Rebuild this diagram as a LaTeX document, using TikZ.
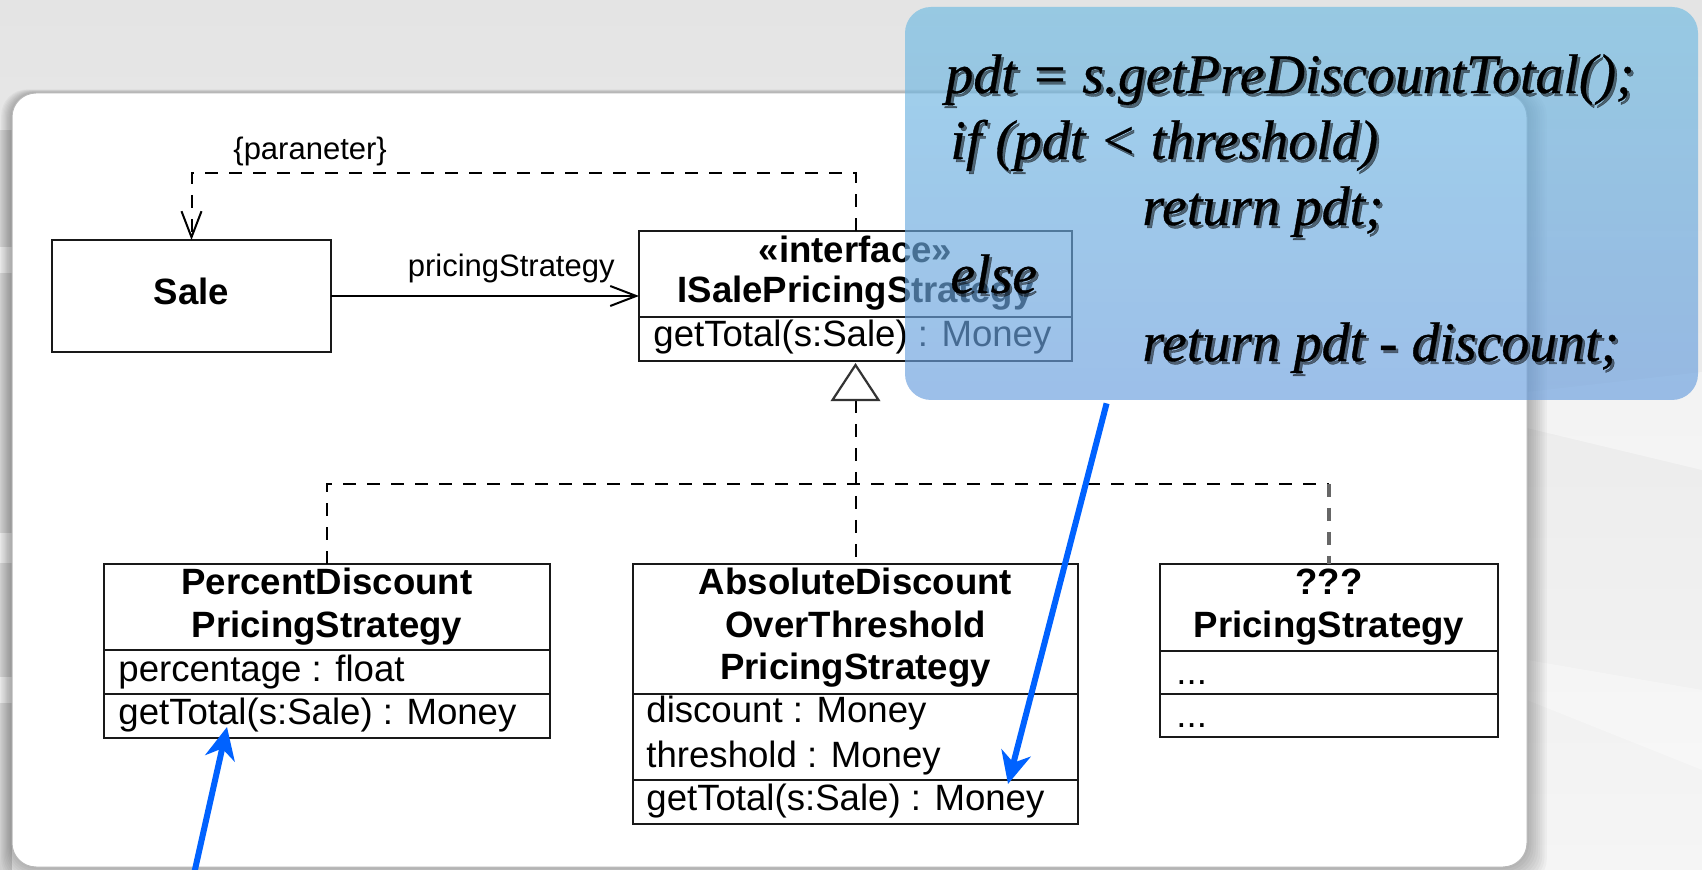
\documentclass[tikz,border=0pt]{standalone}
\usepackage{fontspec}
\setmainfont{Liberation Serif}
\setsansfont{Liberation Sans}
\usetikzlibrary{arrows.meta,calc}

\definecolor{pointerblue}{RGB}{0,98,255}
\definecolor{notetop}{RGB}{112,188,226}
\definecolor{notebottom}{RGB}{106,158,222}
\definecolor{canvastop}{RGB}{228,228,228}
\definecolor{canvasbottom}{RGB}{245,245,245}

% one line of the code note, with its soft drop shadow
\newcommand\noteline[4]{%
  \node[codeshadow] (#1s) at (#2+2.5,#3+3) {#4};
  \node[codetext] (#1) at (#2,#3) {#4};}
% compartment separator inside a class box, #2 = offset from the top edge
\newcommand\compline[2]{%
  \draw[boxline] ($(#1.north west)+(0,#2)$) -- ($(#1.north east)+(0,#2)$);}

\begin{document}
\begin{tikzpicture}[x=0.5pt,y=-0.5pt,
  boxline/.style={line width=1.1pt, draw=black!90},
  umlbox/.style={rectangle, draw=black!90, line width=1.1pt, fill=white,
    inner sep=0pt, outer sep=0pt},
  nametext/.style={font=\sffamily\bfseries\fontsize{18.3}{22}\selectfont,
    anchor=base, inner sep=0pt},
  membertext/.style={font=\sffamily\fontsize{18.3}{22}\selectfont,
    anchor=base west, inner sep=0pt},
  labeltext/.style={font=\sffamily\fontsize{15.5}{18}\selectfont, inner sep=0pt},
  dashline/.style={line width=1pt, dash pattern=on 6.5pt off 5.5pt},
  openhead/.style={-{Straight Barb[length=13pt,width=10pt,line width=1pt]}},
  codetext/.style={font=\itshape\fontsize{27.9}{32}\selectfont\addfontfeature{FakeBold=0.6},
    anchor=base west, inner sep=0pt},
  codeshadow/.style={codetext, text=black, opacity=0.5},
  note/.style={rectangle, rounded corners=13pt, top color=notetop,
    bottom color=notebottom, fill opacity=0.66, draw=none, inner sep=0pt},
  pointer/.style={draw=pointerblue, line width=3pt,
    -{Stealth[length=16pt,width=15pt,inset=5pt]}},
]
\useasboundingbox (0,0) rectangle (1702,870);

% ---------- slide background ----------
\shade[top color=canvastop, bottom color=canvasbottom] (0,0) rectangle (1702,870);
\fill[black!19] (0,130) rectangle (12,870);
\fill[black!9] (0,247) rectangle (12,273);
\fill[black!9] (0,533) rectangle (12,563);
\fill[black!9] (0,677) rectangle (12,703);
\fill[white, opacity=0.4] (1527,392) -- (1702,372) -- (1702,470) -- (1527,428) -- cycle;
\fill[white, opacity=0.35] (1527,660) -- (1702,690) -- (1702,770) -- (1527,700) -- cycle;

% ---------- white panel with soft shadow ----------
\foreach \k in {1,...,9}{
  \fill[black, opacity=0.03, rounded corners=13pt]
    (12-\k*1.2,93-\k*0.4) rectangle (1527+\k*2.2,867+\k*2);
}
\fill[white, rounded corners=12pt] (12,93) rectangle (1527,867);
\draw[black!28, line width=0.5pt, rounded corners=12pt] (12,93) rectangle (1527,867);

% ---------- class boxes ----------
\node[umlbox, minimum width=139.5pt, minimum height=56pt] (sale) at (191.5,296) {};
\node[nametext] (saleName) at (191.5,305) {Sale};

\node[umlbox, minimum width=216.5pt, minimum height=65pt] (iface) at (855.5,296) {};
\compline{iface}{86}
\node[nametext] (ifaceStereo) at (855.5,263) {«interface»};
\node[nametext] (ifaceName) at (855.5,303) {ISalePricingStrategy};
\node[membertext] (ifaceOp) at (653,347) {getTotal(s:Sale) : Money};

\node[umlbox, minimum width=223pt, minimum height=87pt] (percent) at (327,651) {};
\compline{percent}{86}
\compline{percent}{130}
\node[nametext] (percentName1) at (327,595) {PercentDiscount};
\node[nametext] (percentName2) at (327,638) {PricingStrategy};
\node[membertext] (percentAttr) at (118,682) {percentage : float};
\node[membertext] (percentOp) at (118,725) {getTotal(s:Sale) : Money};

\node[umlbox, minimum width=222.5pt, minimum height=130pt] (abs) at (855.5,694) {};
\compline{abs}{130}
\compline{abs}{216}
\node[nametext] (absName1) at (855.5,595) {AbsoluteDiscount};
\node[nametext] (absName2) at (855.5,638) {OverThreshold};
\node[nametext] (absName3) at (855.5,680) {PricingStrategy};
\node[membertext] (absAttr1) at (646,723) {discount : Money};
\node[membertext] (absAttr2) at (646,767) {threshold : Money};
\node[membertext] (absOp) at (646,810) {getTotal(s:Sale) : Money};

\node[umlbox, minimum width=169pt, minimum height=86.5pt] (qq) at (1329,650.5) {};
\compline{qq}{87}
\compline{qq}{130}
\node[nametext] (qqName1) at (1329,595) {???};
\node[nametext] (qqName2) at (1329,638) {PricingStrategy};
\node[membertext] (qqAttr) at (1176,685) {...};
\node[membertext] (qqOp) at (1176,727) {...};

% ---------- association and parameter dependency ----------
\draw[line width=1pt, openhead] (sale.east) -- (iface.west);
\node[labeltext, anchor=base east] (assocLabel) at (615,277) {pricingStrategy};

\coordinate (depBend) at (191.5,173);
\draw[dashline, openhead] (iface.north) |- (depBend) -- (sale.north);
\node[labeltext, anchor=base west] (depLabel) at (233,160) {\{paraneter\}};

% ---------- realization ----------
\coordinate (triApex) at ($(iface.south)+(0,4)$);
\coordinate (triBase) at ($(iface.south)+(0,39)$);
\coordinate (hub) at (855.5,484);
\draw[dashline] (triBase) -- (abs.north);
\draw[dashline] (percent.north) |- (hub) -- (hub -| qq.north);
\draw[dashline, draw=black!60, line width=1.6pt] (hub -| qq.north) -- (qq.north);
\draw[line width=1.1pt, draw=black!80, fill=white, line join=miter]
  (triApex) -- ++(23,35) -- ++(-46,0) -- cycle;

% ---------- code note ----------
\node[note, minimum width=396.5pt, minimum height=196.5pt] (note) at (1301.5,203.5) {};
\noteline{code1}{945}{93}{pdt = s.getPreDiscountTotal();}
\noteline{code2}{950}{159}{if (pdt < threshold)}
\noteline{code3}{1142}{225}{return pdt;}
\noteline{code4}{950}{293}{else}
\noteline{code5}{1142}{361}{return pdt - discount;}

% ---------- pointers ----------
\coordinate (noteTail) at ($(note.south west)+(202,3)$);
\coordinate (absTip) at (1008,784);
\draw[pointer] (noteTail) -- (absTip);

\coordinate (lowTail) at (194,874);
\coordinate (percentTip) at (227,727);
\draw[pointer] (lowTail) -- (percentTip);
\end{tikzpicture}
\end{document}
